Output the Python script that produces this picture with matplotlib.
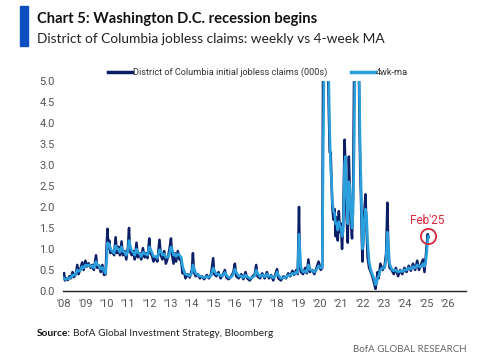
import matplotlib
matplotlib.use("Agg")
import matplotlib.pyplot as plt
from matplotlib.patches import Rectangle
import numpy as np

plt.rcParams['font.family'] = ['Roboto', 'DejaVu Sans']

# weekly DC initial jobless claims (000s) and 4-week moving average
dates = [
    2008.00, 2008.04, 2008.10, 2008.18, 2008.25, 2008.32, 2008.40, 2008.46, 2008.55, 2008.62,
    2008.68, 2008.75, 2008.85, 2008.92, 2009.00, 2009.08, 2009.15, 2009.25, 2009.32, 2009.40,
    2009.50, 2009.56, 2009.65, 2009.72, 2009.80, 2009.88, 2009.95, 2010.00, 2010.04, 2010.08,
    2010.12, 2010.18, 2010.25, 2010.35, 2010.42, 2010.48, 2010.55, 2010.62, 2010.70, 2010.76,
    2010.85, 2010.92, 2011.00, 2011.05, 2011.09, 2011.18, 2011.25, 2011.32, 2011.40, 2011.46,
    2011.55, 2011.62, 2011.70, 2011.78, 2011.85, 2011.92, 2012.00, 2012.05, 2012.12, 2012.20,
    2012.30, 2012.38, 2012.48, 2012.54, 2012.62, 2012.70, 2012.78, 2012.88, 2012.95, 2013.02,
    2013.07, 2013.14, 2013.20, 2013.26, 2013.34, 2013.42, 2013.50, 2013.56, 2013.62, 2013.70,
    2013.80, 2013.90, 2014.00, 2014.05, 2014.10, 2014.18, 2014.28, 2014.38, 2014.48, 2014.58,
    2014.70, 2014.80, 2014.90, 2015.00, 2015.05, 2015.15, 2015.25, 2015.35, 2015.45, 2015.55,
    2015.62, 2015.72, 2015.85, 2015.95, 2016.02, 2016.08, 2016.20, 2016.32, 2016.42, 2016.52,
    2016.60, 2016.72, 2016.85, 2016.95, 2017.02, 2017.08, 2017.20, 2017.30, 2017.42, 2017.52,
    2017.62, 2017.72, 2017.82, 2017.92, 2018.00, 2018.06, 2018.18, 2018.30, 2018.42, 2018.52,
    2018.62, 2018.72, 2018.80, 2018.90, 2018.97, 2019.03, 2019.07, 2019.12, 2019.22, 2019.32,
    2019.40, 2019.47, 2019.54, 2019.65, 2019.75, 2019.85, 2019.95, 2020.05, 2020.12, 2020.16,
    2020.22, 2020.30, 2020.38, 2020.42, 2020.47, 2020.52, 2020.56, 2020.60, 2020.65, 2020.70,
    2020.75, 2020.80, 2020.85, 2020.90, 2020.95, 2021.00, 2021.05, 2021.10, 2021.14, 2021.17,
    2021.21, 2021.26, 2021.32, 2021.37, 2021.42, 2021.47, 2021.52, 2021.57, 2021.62, 2021.68,
    2021.75, 2021.82, 2021.87, 2021.90, 2021.94, 2021.98, 2022.01, 2022.05, 2022.10, 2022.15,
    2022.20, 2022.25, 2022.32, 2022.40, 2022.47, 2022.55, 2022.62, 2022.67, 2022.72, 2022.77,
    2022.85, 2022.95, 2023.05, 2023.12, 2023.18, 2023.23, 2023.28, 2023.38, 2023.48, 2023.58,
    2023.68, 2023.78, 2023.88, 2023.98, 2024.08, 2024.18, 2024.28, 2024.38, 2024.48, 2024.58,
    2024.66, 2024.75, 2024.85, 2024.92, 2024.98, 2025.03, 2025.07, 2025.11,
]
claims = [
    0.42, 0.25, 0.30, 0.26, 0.35, 0.30, 0.45, 0.33, 0.40, 0.62,
    0.40, 0.50, 0.68, 0.50, 0.72, 0.58, 0.66, 0.55, 0.62, 0.50,
    0.85, 0.55, 0.60, 0.45, 0.62, 0.38, 0.40, 1.10, 1.48, 1.00,
    1.20, 0.90, 0.95, 0.85, 1.28, 0.90, 1.05, 0.85, 1.18, 0.85,
    0.95, 0.75, 1.05, 1.50, 0.95, 0.85, 0.95, 0.75, 1.15, 0.80,
    0.90, 0.75, 1.02, 0.80, 0.90, 0.78, 1.25, 0.90, 0.85, 0.70,
    0.80, 0.70, 1.22, 0.85, 0.75, 0.95, 0.65, 0.80, 1.00, 1.25,
    0.85, 0.65, 0.90, 0.70, 0.95, 0.75, 0.72, 0.42, 0.50, 0.30,
    0.40, 0.32, 0.50, 0.90, 0.45, 0.35, 0.40, 0.30, 0.35, 0.28,
    0.38, 0.30, 0.40, 0.78, 0.40, 0.35, 0.45, 0.30, 0.38, 0.50,
    0.32, 0.28, 0.35, 0.45, 0.65, 0.35, 0.30, 0.40, 0.28, 0.45,
    0.30, 0.25, 0.35, 0.40, 0.62, 0.35, 0.30, 0.42, 0.30, 0.45,
    0.30, 0.38, 0.25, 0.40, 0.52, 0.30, 0.25, 0.35, 0.30, 0.42,
    0.35, 0.48, 0.38, 0.50, 0.40, 2.00, 0.60, 0.45, 0.40, 0.55,
    0.42, 0.75, 0.45, 0.50, 0.40, 0.55, 0.70, 0.50, 0.55, 5.50,
    9.00, 8.00, 5.50, 4.50, 3.30, 3.30, 2.50, 1.95, 1.70, 1.95,
    1.30, 1.75, 1.20, 1.90, 1.40, 1.60, 1.00, 1.60, 2.80, 3.60,
    3.00, 1.80, 1.15, 3.20, 2.30, 1.60, 1.25, 2.40, 5.50, 9.00,
    9.00, 6.00, 4.00, 3.00, 2.20, 1.20, 0.70, 1.40, 1.90, 2.30,
    1.50, 0.80, 0.55, 0.45, 0.35, 0.20, 0.05, 0.25, 0.45, 0.30,
    0.65, 0.50, 0.60, 0.90, 2.10, 0.80, 0.55, 0.50, 0.40, 0.55,
    0.35, 0.50, 0.40, 0.55, 0.45, 0.60, 0.48, 0.65, 0.50, 0.72,
    0.50, 0.62, 0.75, 0.45, 0.80, 1.10, 1.35, 1.28,
]
ma4 = [
    0.30, 0.28, 0.28, 0.29, 0.31, 0.32, 0.38, 0.37, 0.40, 0.50,
    0.47, 0.48, 0.58, 0.55, 0.62, 0.60, 0.62, 0.58, 0.60, 0.55,
    0.70, 0.62, 0.60, 0.52, 0.56, 0.48, 0.42, 0.75, 1.15, 1.10,
    1.12, 1.00, 0.95, 0.90, 1.08, 1.00, 1.00, 0.92, 1.05, 0.95,
    0.92, 0.85, 0.95, 1.20, 1.10, 0.95, 0.92, 0.85, 1.00, 0.92,
    0.88, 0.82, 0.92, 0.88, 0.88, 0.85, 1.05, 1.00, 0.92, 0.82,
    0.82, 0.78, 0.98, 0.95, 0.85, 0.88, 0.80, 0.80, 0.90, 1.05,
    1.00, 0.85, 0.88, 0.82, 0.88, 0.85, 0.80, 0.60, 0.48, 0.40,
    0.38, 0.36, 0.42, 0.62, 0.55, 0.42, 0.38, 0.35, 0.34, 0.32,
    0.34, 0.33, 0.36, 0.55, 0.48, 0.40, 0.40, 0.36, 0.36, 0.44,
    0.38, 0.32, 0.33, 0.40, 0.52, 0.45, 0.35, 0.36, 0.32, 0.38,
    0.34, 0.30, 0.32, 0.36, 0.50, 0.42, 0.34, 0.38, 0.34, 0.40,
    0.35, 0.36, 0.31, 0.35, 0.45, 0.38, 0.30, 0.32, 0.32, 0.38,
    0.37, 0.42, 0.40, 0.45, 0.43, 1.35, 1.00, 0.55, 0.45, 0.48,
    0.45, 0.62, 0.52, 0.48, 0.45, 0.50, 0.60, 0.55, 0.55, 3.00,
    6.00, 8.00, 6.50, 5.20, 3.80, 2.90, 2.60, 2.10, 1.90, 1.85,
    1.60, 1.60, 1.45, 1.65, 1.55, 1.50, 1.30, 1.40, 2.20, 3.00,
    3.20, 2.40, 1.60, 2.60, 2.50, 1.90, 1.50, 1.90, 3.50, 6.50,
    8.00, 6.50, 4.50, 3.40, 2.60, 1.60, 1.00, 1.10, 1.70, 1.95,
    1.80, 1.20, 0.70, 0.50, 0.40, 0.30, 0.15, 0.18, 0.32, 0.35,
    0.50, 0.55, 0.55, 0.75, 1.40, 1.10, 0.65, 0.52, 0.48, 0.50,
    0.45, 0.48, 0.46, 0.50, 0.50, 0.55, 0.52, 0.58, 0.55, 0.62,
    0.58, 0.58, 0.65, 0.58, 0.70, 0.95, 1.22, 1.30,
]
year_ticks = list(range(2008, 2027))
year_labels = ["'%02d" % (y % 100) for y in year_ticks]
y_ticks = [0.0, 0.5, 1.0, 1.5, 2.0, 2.5, 3.0, 3.5, 4.0, 4.5, 5.0]

DARK = '#0c1f66'
LIGHT = '#2a9fdc'
RED = '#d8283a'
GREY = '#555555'
HEAD = ['Lato', 'DejaVu Sans']

fig = plt.figure(figsize=(5.0, 3.61), dpi=100)
ax = fig.add_axes([0.126, 0.194, 0.806, 0.582])

ax.plot(dates, claims, color=DARK, lw=1.8, label='District of Columbia initial jobless claims (000s)')
ax.plot(dates, ma4, color=LIGHT, lw=1.9, label='4wk-ma')

ax.set_xlim(2007.95, 2026.87)
ax.set_ylim(0, 5)
ax.set_xticks(year_ticks)
ax.set_xticklabels(year_labels)
ax.set_yticks(y_ticks)
ax.set_yticklabels(['%.1f' % v for v in y_ticks])
ax.tick_params(length=0, labelsize=8, labelcolor=GREY)
ax.tick_params(axis='x', pad=6)
ax.tick_params(axis='y', pad=6)
for s in ['top', 'right', 'left']:
    ax.spines[s].set_visible(False)
ax.spines['bottom'].set_color('#222222')
ax.spines['bottom'].set_linewidth(1.0)

# Feb'25 marker on the latest peak
arr_d = np.array(dates)
arr_c = np.array(claims)
recent = np.where(arr_d >= 2025)[0]
pk = recent[np.argmax(arr_c[recent])]
ax.plot(dates[pk], claims[pk] - 0.05, marker='o', ms=11, mfc='none', mec=RED, mew=1.3)
ax.annotate("Feb'25", (dates[pk], claims[pk]), xytext=(0, 5), textcoords='offset points',
            ha='center', va='bottom', color=RED, fontsize=8.5)

leg = ax.legend(loc='lower center', bbox_to_anchor=(0.484, 0.99), ncol=2, frameon=False,
                fontsize=6.6, handlelength=2.6, handletextpad=0.15, columnspacing=2.6,
                borderaxespad=0.2)
for t in leg.get_texts():
    t.set_color('#333333')
for ln in leg.get_lines():
    ln.set_linewidth(2.5)

# header
fig.patches.append(Rectangle((0.040, 0.873), 0.016, 0.111, transform=fig.transFigure,
                             color='#0b4fc0'))
fig.text(0.074, 0.948, 'Chart 5: Washington D.C. recession begins', fontsize=10.6,
         fontweight='bold', color='#111111', va='center', family=HEAD)
fig.text(0.074, 0.893, 'District of Columbia jobless claims: weekly vs 4-week MA', fontsize=9.9,
         color='#222222', va='center', family=HEAD)

# footer
src = fig.text(0.074, 0.076, 'Source:', fontsize=7.3, fontweight='bold', color='#111111',
               va='center', family=HEAD)
fig.canvas.draw()
bb = src.get_window_extent().transformed(fig.transFigure.inverted())
fig.text(bb.x1 + 0.004, 0.076, 'BofA Global Investment Strategy, Bloomberg', fontsize=7.3,
         color='#222222', va='center', family=HEAD)
fig.text(0.934, 0.033, 'BofA GLOBAL RESEARCH', fontsize=7.0, color='#666666', ha='right',
         va='center', family=HEAD)

fig.savefig('out.png', dpi=100)
